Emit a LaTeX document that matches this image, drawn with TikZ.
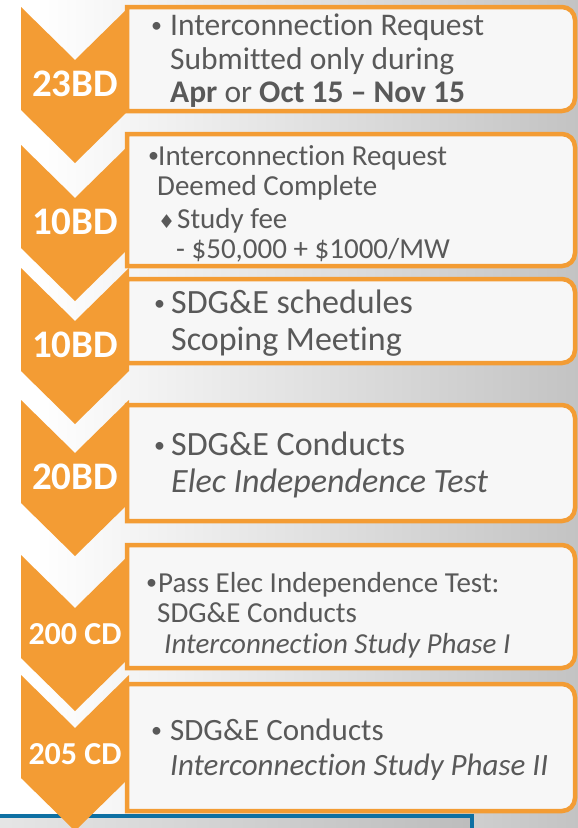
\documentclass[tikz,border=0pt]{standalone}
\usepackage{fontspec}
\setmainfont{Carlito}[Ligatures=NoCommon]
\newfontfamily\symfont{DejaVu Sans}

\definecolor{chevorange}{RGB}{243,156,52}
\definecolor{boxfill}{RGB}{247,247,247}
\definecolor{textgrey}{RGB}{89,89,89}
\definecolor{lineblue}{RGB}{14,112,163}
\pgfdeclarehorizontalshading{bgshade}{100bp}{color(0bp)=(white); color(28bp)=(white); color(100bp)=(black!36)}
\newcommand{\bul}[1]{\makebox[#1][l]{\hspace{1pt}\raisebox{2.5pt}{\fontsize{22}{22}\selectfont•}}}

\begin{document}
\begin{tikzpicture}[x=1pt,y=-1pt,
  chev/.style={fill=chevorange},
  stepbox/.style={draw=chevorange,line width=4.5pt,fill=boxfill},
  daylabel/.style={text=white,anchor=base,inner sep=0pt,font=\fontsize{#1}{#1}\selectfont\bfseries},
  txt/.style={text=textgrey,anchor=base west,inner sep=0pt,font=\fontsize{#1}{#1}\selectfont}]
\useasboundingbox (0,0) rectangle (578,828);
% background
\shade[shading=bgshade] (0,0) rectangle (578,828);
\shade[left color=black!10,right color=black!26] (0,816) rectangle (472,828);
\draw[lineblue,line width=3.5pt] (0,816) -- (472,816) -- (472,830);
% chevrons
\foreach \t in {7,145,268,400,555,675}
  \fill[chev] (21,\t) -- (75,\t+53) -- (129,\t) -- (129,\t+103) -- (75,\t+156) -- (21,\t+103) -- cycle;
% boxes
\foreach \a/\b in {5/113,132/268,277/365,403/523,543/670,682/813}
  \draw[stepbox] (127,\a+2) [rounded corners=13pt] -- (575,\a+2) -- (575,\b-2) [sharp corners] -- (127,\b-2) -- cycle;
% day counts
\foreach \t/\lab/\sz in {7/23BD/39,145/10BD/39,268/10BD/39,400/20BD/39,555/200 CD/32,675/205 CD/32}
  \node[daylabel=\sz] (lab\t) at (75,\t+89) {\lab};
% box 1
\node[txt=31.5] (b1a) at (150,35) {\bul{20pt}Interconnection Request};
\node[txt=31.5] (b1b) at (170,69) {Submitted only during};
\node[txt=31.5] (b1c) at (170,102) {\textbf{Apr} or \textbf{Oct 15 – Nov 15}};
% box 2
\node[txt=29] (b2a) at (147,165) {\bul{11pt}Interconnection Request};
\node[txt=29] (b2b) at (157,195) {Deemed Complete};
\node[txt=29] (b2c) at (158,228) {\makebox[19pt][l]{\symfont\fontsize{19}{19}\selectfont ♦}Study fee};
\node[txt=29] (b2d) at (176,258) {- \$50,000 + \$1000/MW};
% box 3
\node[txt=34] (b3a) at (153,313) {\bul{18pt}SDG\&E schedules};
\node[txt=34] (b3b) at (171,350) {Scoping Meeting};
% box 4
\node[txt=34] (b4a) at (153,455) {\bul{18pt}SDG\&E Conducts};
\node[txt=34] (b4b) at (171,492) {\itshape Elec Independence Test};
% box 5
\node[txt=29] (b5a) at (145,592) {\bul{13pt}Pass Elec Independence Test:};
\node[txt=29] (b5b) at (157,622) {SDG\&E Conducts};
\node[txt=29] (b5c) at (164,653) {\itshape Interconnection Study Phase I};
% box 6
\node[txt=31] (b6a) at (150,740) {\bul{20pt}SDG\&E Conducts};
\node[txt=31] (b6b) at (170,775) {\itshape Interconnection Study Phase II};
\end{tikzpicture}
\end{document}
